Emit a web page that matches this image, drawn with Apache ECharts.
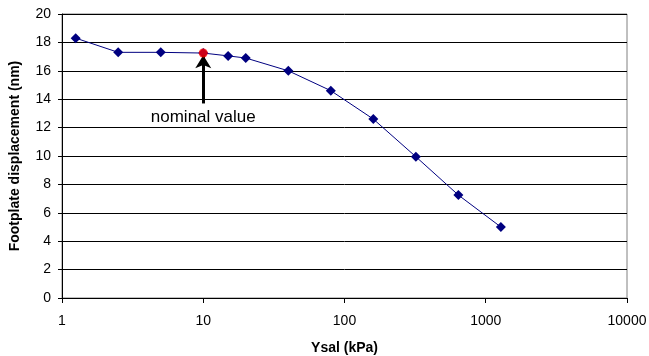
<!DOCTYPE html>
<html>
<head>
<meta charset="utf-8">
<script src="https://cdn.jsdelivr.net/npm/echarts@6/dist/echarts.min.js"></script>
<style>
    html, body { margin: 0; padding: 0; background: #fff; }
    #chart { width: 649px; height: 356px; }
</style>
</head>
<body>
<div id="chart"></div>
<script>
// data
var pressure = [1.25, 2.5, 5, 10, 15, 20, 40, 80, 160, 320, 640, 1280];     // Ysal (kPa)
var displacement = [18.3, 17.3, 17.3, 17.25, 17.05, 16.9, 16.0, 14.6, 12.6, 9.95, 7.25, 5.0];
var nominalX = 10;
var nominalY = 17.25;
var arrowFrom = [10, 13.7];
var arrowTo = [10, 17.1];

var chart = echarts.init(document.getElementById("chart"));

var points = [];
for (var i = 0; i < pressure.length; i++) {
    points.push([pressure[i], displacement[i]]);
}

var option = {
    animation: false,
    grid: {
        left: 62, right: 22, top: 14, bottom: 58,
        outerBoundsMode: "none",
        containLabel: false,
        show: true, borderColor: "#808080", borderWidth: 1
    },
    xAxis: {
        type: "log",
        logBase: 10,
        min: 1,
        max: 10000,
        name: "Ysal (kPa)",
        nameLocation: "middle",
        nameGap: 43,
        nameTextStyle: { fontFamily: "Liberation Sans", fontWeight: "bold", fontSize: 14, color: "#000" },
        axisLine: { show: true, lineStyle: { color: "#000", width: 1 } },
        axisTick: { show: true, length: 5, lineStyle: { color: "#000" } },
        minorTick: { show: false },
        splitLine: { show: false },
        axisLabel: {
            fontFamily: "Liberation Sans", fontSize: 14, color: "#000", margin: 16,
            formatter: function (v) { return String(Math.round(v)); }
        }
    },
    yAxis: {
        type: "value",
        min: 0,
        max: 20,
        interval: 2,
        name: "Footplate displacement (nm)",
        nameLocation: "middle",
        nameGap: 40,
        nameTextStyle: { fontFamily: "Liberation Sans", fontWeight: "bold", fontSize: 14, color: "#000" },
        axisLine: { show: true, lineStyle: { color: "#000", width: 1 } },
        axisTick: { show: true, length: 4, lineStyle: { color: "#000" } },
        splitLine: { show: true, lineStyle: { color: "#000", width: 1 } },
        axisLabel: { fontFamily: "Liberation Sans", fontSize: 14, color: "#000", margin: 11 }
    },
    series: [
        {
            name: "displacement",
            type: "line",
            data: points,
            symbol: "diamond",
            symbolSize: 10,
            lineStyle: { color: "#000080", width: 1 },
            itemStyle: { color: "#000080" },
            markLine: {
                silent: true,
                symbol: ["none", "arrow"],
                symbolSize: [12, 13],
                lineStyle: { color: "#000", width: 3, type: "solid" },
                label: {
                    show: true,
                    position: "start",
                    formatter: "nominal value",
                    fontFamily: "Liberation Sans",
                    fontSize: 17,
                    color: "#000",
                    distance: 5
                },
                data: [[{ coord: arrowFrom }, { coord: arrowTo }]]
            }
        },
        {
            name: "nominal",
            type: "scatter",
            data: [[nominalX, nominalY]],
            symbol: "circle",
            symbolSize: 9,
            itemStyle: { color: "#ff0000" },
            z: 5
        }
    ]
};

chart.setOption(option);
</script>
</body>
</html>
